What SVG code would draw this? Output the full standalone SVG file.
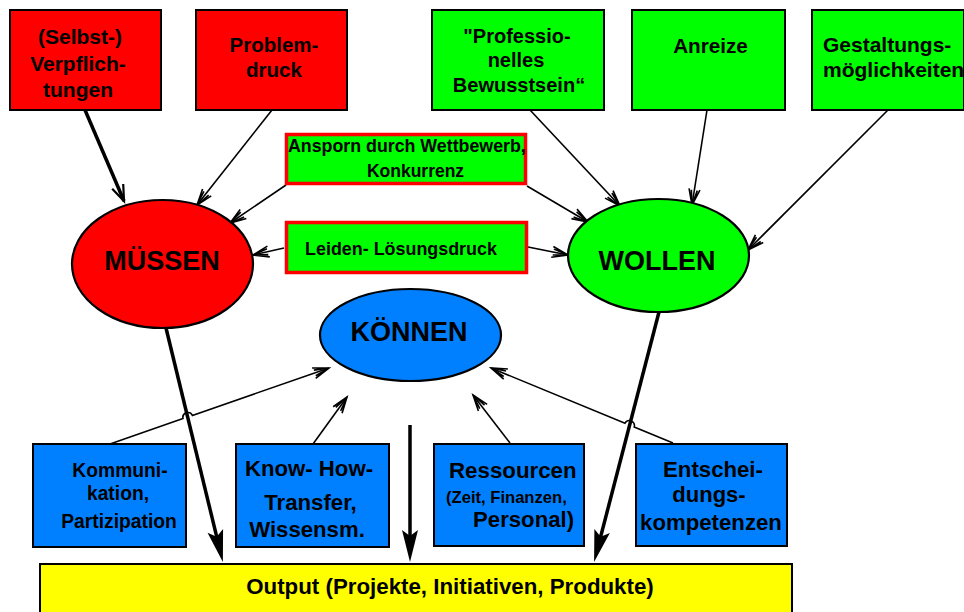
<svg xmlns="http://www.w3.org/2000/svg" width="964" height="612" viewBox="0 0 964 612">
<style>
text{font-family:"Liberation Sans",Arial,sans-serif;font-weight:bold;fill:#000}
.c{text-anchor:middle}
.box{stroke:#000;stroke-width:2}
.red{fill:#FF0000}
.green{fill:#00FF00}
.blue{fill:#0080FF}
.yellow{fill:#FFFF00}
.mid{fill:#00FF00;stroke:#FF0000;stroke-width:3.5}
.ell{stroke:#000;stroke-width:2.2}
.thin{fill:none;stroke:#000;stroke-width:1.6;marker-end:url(#open)}
.thickopen{fill:none;stroke:#000;stroke-width:3.5;marker-end:url(#openbig)}
.thick{fill:none;stroke:#000;stroke-width:3.5;marker-end:url(#filled)}
</style>
<defs>
<marker id="open" markerUnits="userSpaceOnUse" markerWidth="40" markerHeight="40" viewBox="-20 -20 40 40" refX="0" refY="0" orient="auto" overflow="visible">
<path d="M-16,-5.5 L0,0 L-16,5.5 M-15,-3 L0,0 L-15,3" fill="none" stroke="#000" stroke-width="1.6"/>
</marker>
<marker id="openbig" markerUnits="userSpaceOnUse" markerWidth="40" markerHeight="40" viewBox="-20 -20 40 40" refX="0" refY="0" orient="auto" overflow="visible">
<path d="M-16,-6 L0,0 L-16,6" fill="none" stroke="#000" stroke-width="2.2"/>
</marker>
<marker id="filled" markerUnits="userSpaceOnUse" markerWidth="50" markerHeight="50" viewBox="-25 -25 50 50" refX="0" refY="0" orient="auto" overflow="visible">
<path d="M10,0 L-22,-8 L-16,0 L-22,8 Z" fill="#000"/>
</marker>
</defs>

<g id="connectors">
<path class="thickopen" d="M85,110 L124,201"/>
<path class="thin" d="M272,110 L197,205"/>
<path class="thin" d="M286,185 L230,223"/>
<path class="thin" d="M284,248 L253,255"/>
<path class="thin" d="M527,186 L588,222"/>
<path class="thin" d="M528,247 L568,255"/>
<path class="thin" d="M530,110 L620,206"/>
<path class="thin" d="M707,110 L692,205"/>
<path class="thin" d="M888,110 L748,250"/>
<path class="thin" d="M110,444 L183,418.6 A5,5 0 0 1 192.4,415.4 L329,368"/>
<path class="thin" d="M313,444 L347,397"/>
<path class="thin" d="M510,443 L473,395"/>
<path class="thin" d="M673,443 L634.2,427 A5,5 0 0 0 625,423.2 L491,368"/>
<path class="thick" d="M166,328 L220.5,552.3"/>
<path class="thick" d="M659,312 L596.6,552.3"/>
<path class="thick" d="M410,425 L410,552"/>
</g>

<g id="n-selbst">
<rect class="box red" x="10" y="10" width="151" height="100"/>
<text class="c" x="80" y="44" font-size="21">(Selbst-)</text>
<text class="c" x="78" y="71" font-size="21">Verpflich-</text>
<text class="c" x="78" y="97" font-size="21">tungen</text>
</g>
<g id="n-problem">
<rect class="box red" x="196" y="10" width="151" height="100"/>
<text class="c" x="274" y="52" font-size="20.5">Problem-</text>
<text class="c" x="274" y="77" font-size="20.5">druck</text>
</g>
<g id="n-prof">
<rect class="box green" x="432" y="10" width="172" height="100"/>
<text class="c" x="517" y="43" font-size="20">"Professio-</text>
<text class="c" x="516" y="67" font-size="20">nelles</text>
<text class="c" x="519" y="92" font-size="20">Bewusstsein“</text>
</g>
<g id="n-anreize">
<rect class="box green" x="632" y="10" width="153" height="100"/>
<text class="c" x="710.5" y="53" font-size="20.7">Anreize</text>
</g>
<g id="n-gestaltung">
<rect class="box green" x="812" y="10" width="152" height="100"/>
<text x="823" y="52" font-size="21">Gestaltungs-</text>
<text x="823" y="77" font-size="21">möglichkeiten</text>
</g>
<g id="n-ansporn">
<rect class="mid" x="286.5" y="134.5" width="239" height="49"/>
<text x="288" y="152" font-size="17.8">Ansporn durch Wettbewerb,</text>
<text class="c" x="415.5" y="177" font-size="17.5">Konkurrenz</text>
</g>
<g id="n-leiden">
<rect class="mid" x="286.5" y="222.5" width="240" height="50"/>
<text class="c" x="401" y="255" font-size="17.9">Leiden- Lösungsdruck</text>
</g>
<g id="n-muessen">
<ellipse class="ell red" cx="162.5" cy="264" rx="90.5" ry="64"/>
<text class="c" x="162" y="270" font-size="27">MÜSSEN</text>
</g>
<g id="n-wollen">
<ellipse class="ell green" cx="658.5" cy="255.5" rx="90.5" ry="56.5"/>
<text class="c" x="657" y="270" font-size="27">WOLLEN</text>
</g>
<g id="n-koennen">
<ellipse class="ell blue" cx="410.5" cy="335" rx="90.5" ry="46"/>
<text class="c" x="409" y="341" font-size="27">KÖNNEN</text>
</g>
<g id="n-kommunikation">
<rect class="box blue" x="33" y="444" width="153" height="103"/>
<text class="c" x="120" y="477" font-size="19.3">Kommuni-</text>
<text class="c" x="118" y="500" font-size="19.3">kation,</text>
<text class="c" x="119" y="528" font-size="19.3">Partizipation</text>
</g>
<g id="n-knowhow">
<rect class="box blue" x="236" y="444" width="153" height="103"/>
<text class="c" x="309" y="476" font-size="22.2">Know- How-</text>
<text class="c" x="310.5" y="510" font-size="22.2">Transfer,</text>
<text class="c" x="307" y="537" font-size="22.2">Wissensm.</text>
</g>
<g id="n-ressourcen">
<rect class="box blue" x="434" y="444" width="150" height="102"/>
<text x="449" y="478" font-size="22.3">Ressourcen</text>
<text x="446" y="503" font-size="16.6">(Zeit, Finanzen,</text>
<text x="473" y="527" font-size="22.2">Personal)</text>
</g>
<g id="n-entscheidung">
<rect class="box blue" x="636" y="444" width="151" height="102"/>
<text class="c" x="713" y="477" font-size="22.2">Entschei-</text>
<text class="c" x="709" y="502" font-size="22">dungs-</text>
<text class="c" x="711" y="530" font-size="22.2">kompetenzen</text>
</g>
<g id="n-output">
<rect class="box yellow" x="40" y="564" width="752" height="60"/>
<text class="c" x="450" y="594" font-size="22.3">Output (Projekte, Initiativen, Produkte)</text>
</g>
</svg>
